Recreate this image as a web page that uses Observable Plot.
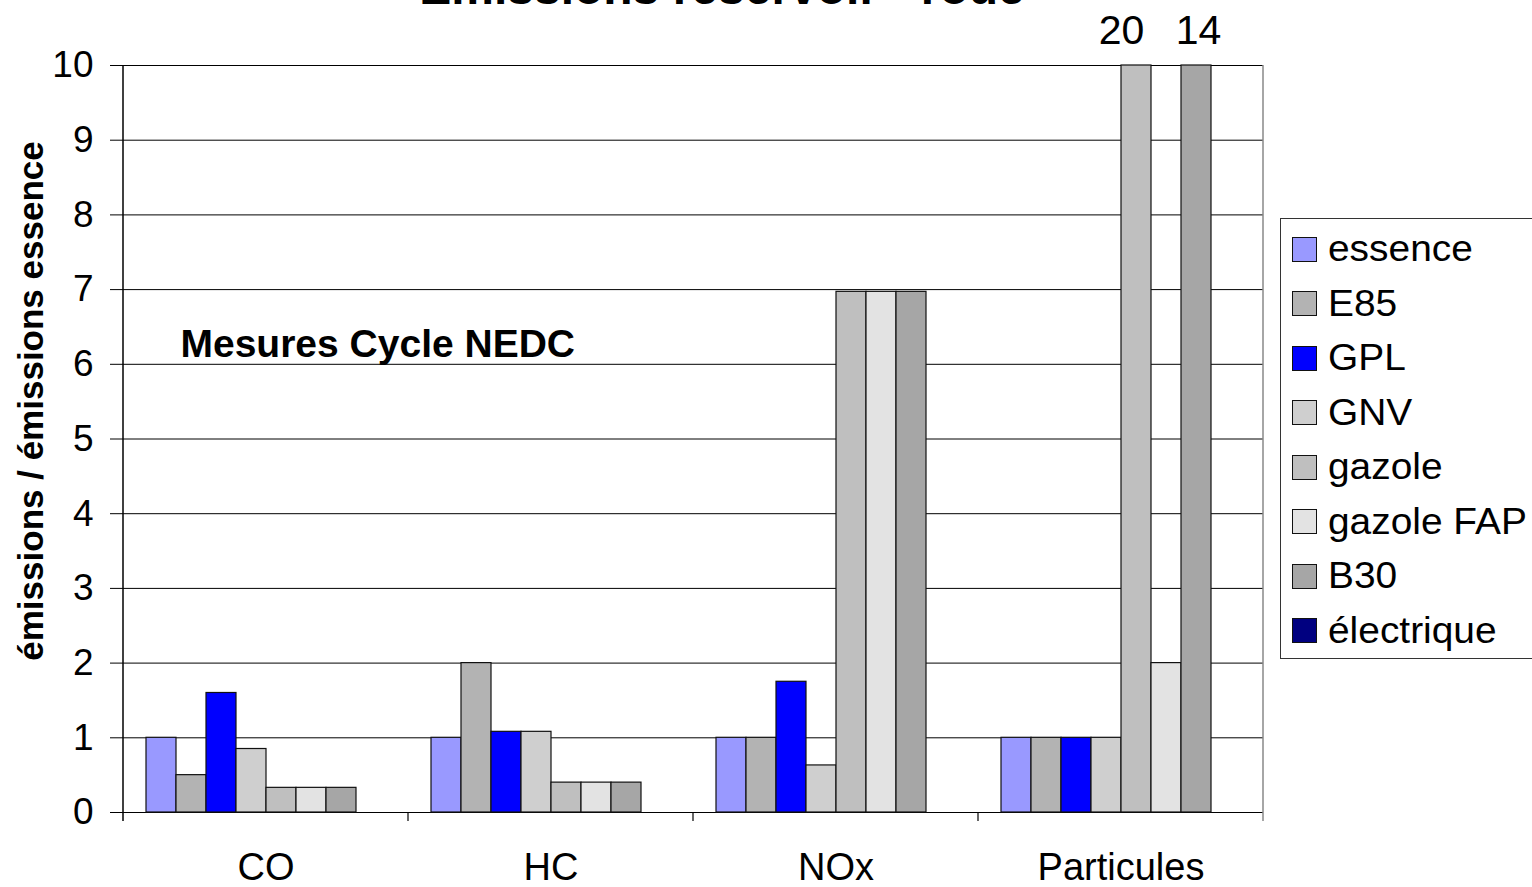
<!DOCTYPE html>
<html>
<head>
<meta charset="utf-8">
<script src="https://cdn.jsdelivr.net/npm/d3@7"></script>
<script src="https://cdn.jsdelivr.net/npm/@observablehq/plot@0.6"></script>
<style>
  html, body { margin: 0; padding: 0; background: #fff; overflow: hidden; }
  body { width: 1532px; height: 887px; position: relative; font-family: "Liberation Sans", Arial, sans-serif; }
  #title { position: absolute; left: 0; width: 1444px; text-align: center; top: -36px; font-size: 48px; line-height: 48px; font-weight: bold; white-space: nowrap; }
  #chart { position: absolute; left: 0; top: 0; }
  #legend { position: absolute; left: 1280px; top: 218px; width: 270px; height: 441px; border: 1px solid #333; box-sizing: border-box; background: #fff; overflow: hidden; }
  .item { position: absolute; left: 11px; height: 40px; display: flex; align-items: center; font-size: 36px; white-space: nowrap; }
  .sw { width: 25px; height: 25px; border: 1px solid #111; box-sizing: border-box; margin-right: 11px; flex: none; }
  .lbl { display: inline-block; transform: scaleX(1.08); transform-origin: 0 50%; }
</style>
</head>
<body>
<div id="title">Émissions réservoir - roue</div>
<div id="chart"></div>
<div id="legend"></div>
<script>
const categories = ["CO", "HC", "NOx", "Particules"];
const series = ["essence", "E85", "GPL", "GNV", "gazole", "gazole FAP", "B30", "électrique"];
const seriesColors = ["#9999FF", "#B3B3B3", "#0000FF", "#CFCFCF", "#BFBFBF", "#E3E3E3", "#A6A6A6", "#000080"];
const valuesCO = [1, 0.5, 1.6, 0.85, 0.33, 0.33, 0.33, 0];
const valuesHC = [1, 2, 1.08, 1.08, 0.4, 0.4, 0.4, 0];
const valuesNOx = [1, 1, 1.75, 0.63, 6.97, 6.97, 6.97, 0];
const valuesParticules = [1, 1, 1, 1, 20, 2, 14, 0];
const yTicks = [0, 1, 2, 3, 4, 5, 6, 7, 8, 9, 10];
const yMax = 10;
const annotation = "Mesures Cycle NEDC";
const yLabel = "émissions / émissions essence";

const valueSets = [valuesCO, valuesHC, valuesNOx, valuesParticules];
const data = [];
categories.forEach((c, i) => series.forEach((s, j) => data.push({cat: c, series: s, value: valueSets[i][j]})));
const offscale = data.filter(d => d.value > yMax);

const plot = Plot.plot({
  width: 1532,
  height: 887,
  marginLeft: 123,
  marginRight: 269,
  marginTop: 65,
  marginBottom: 75,
  style: {fontFamily: "'Liberation Sans', Arial, sans-serif", background: "transparent", color: "#000"},
  fx: {domain: categories, padding: 0},
  x: {domain: series, paddingInner: 0, paddingOuter: 0.75, axis: null},
  y: {domain: [0, yMax], clamp: true},
  color: {domain: series, range: seriesColors},
  marks: [
    Plot.ruleY(yTicks, {stroke: "#000", strokeWidth: 1}),
    Plot.barY(data, {fx: "cat", x: "series", y: "value", fill: "series", stroke: "#111", strokeWidth: 1.2}),
    Plot.text(offscale.slice(0, 1), {fx: "cat", x: "series", y: yMax, text: d => String(d.value), dy: -35, dx: -15, fontSize: 41, fill: "#000"}),
    Plot.text(offscale.slice(1), {fx: "cat", x: "series", y: yMax, text: d => String(d.value), dy: -35, dx: 2, fontSize: 41, fill: "#000"}),
    Plot.text([{cat: categories[0], t: annotation}], {fx: "cat", text: "t", frameAnchor: "top-left", dx: 57, dy: 264, textAnchor: "start", fontSize: 39, fontWeight: "bold", fill: "#000"}),
    Plot.text([{cat: categories[0], t: yLabel}], {fx: "cat", text: "t", frameAnchor: "left", textAnchor: "middle", rotate: -90, dx: -92, dy: -38, fontSize: 35, fontWeight: "bold", fill: "#000"}),
    Plot.axisY({ticks: yTicks, tickSize: 13, tickPadding: 17, fontSize: 37, label: null, tickFormat: d => String(d)}),
    Plot.axisFx({anchor: "bottom", tickSize: 0, tickPadding: 41, fontSize: 38, label: null})
  ]
});
document.getElementById("chart").appendChild(plot);

// axis lines and category separators
const fx = plot.scale("fx");
const y = plot.scale("y");
const y0 = y.apply(0), y1 = y.apply(yMax);
const edges = categories.map(c => fx.apply(c));
edges.push(fx.apply(categories[categories.length - 1]) + fx.bandwidth);
const g = d3.select(plot).append("g");
edges.forEach((x, i) => {
  if (i === 0) {
    g.append("line").attr("x1", x).attr("x2", x).attr("y1", y1).attr("y2", y0 + 9).attr("stroke", "#000").attr("stroke-width", 1.5);
  } else if (i === edges.length - 1) {
    g.append("line").attr("x1", x).attr("x2", x).attr("y1", y1).attr("y2", y0 + 9).attr("stroke", "#888").attr("stroke-width", 1.5);
  } else {
    g.append("line").attr("x1", x).attr("x2", x).attr("y1", y0).attr("y2", y0 + 9).attr("stroke", "#000").attr("stroke-width", 1.2);
  }
});

// legend
const legend = document.getElementById("legend");
series.forEach((s, i) => {
  const item = document.createElement("div");
  item.className = "item";
  item.style.top = (10 + i * 54.5) + "px";
  const sw = document.createElement("div");
  sw.className = "sw";
  sw.style.background = seriesColors[i];
  item.appendChild(sw);
  const lbl = document.createElement("span");
  lbl.className = "lbl";
  lbl.textContent = s;
  item.appendChild(lbl);
  legend.appendChild(item);
});
</script>
</body>
</html>
